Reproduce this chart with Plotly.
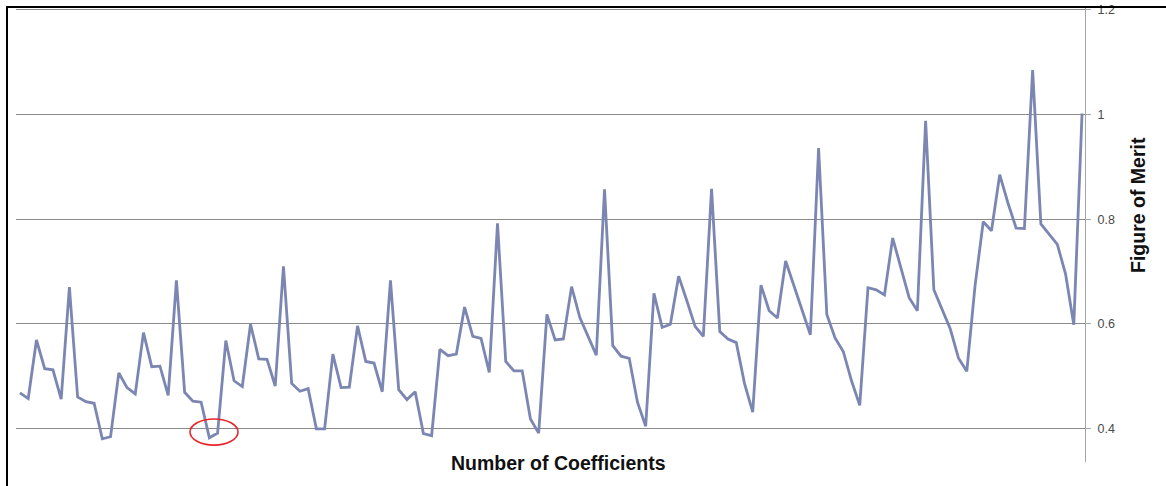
import plotly.graph_objects as go

# Data
figure_of_merit = [
    0.468, 0.457, 0.569, 0.514, 0.512, 0.456, 0.670, 0.460, 0.451, 0.448,
    0.380, 0.384, 0.506, 0.478, 0.466, 0.583, 0.518, 0.519, 0.463, 0.683,
    0.469, 0.452, 0.450, 0.382, 0.391, 0.568, 0.491, 0.480, 0.599, 0.533,
    0.532, 0.481, 0.710, 0.486, 0.471, 0.476, 0.399, 0.399, 0.542, 0.478,
    0.479, 0.596, 0.528, 0.525, 0.470, 0.683, 0.474, 0.455, 0.470, 0.390,
    0.386, 0.551, 0.539, 0.542, 0.632, 0.576, 0.572, 0.507, 0.792, 0.528,
    0.510, 0.510, 0.418, 0.391, 0.618, 0.569, 0.571, 0.671, 0.612, 0.577,
    0.540, 0.857, 0.558, 0.538, 0.534, 0.450, 0.404, 0.658, 0.593, 0.599,
    0.691, 0.644, 0.595, 0.576, 0.858, 0.585, 0.571, 0.564, 0.486, 0.431,
    0.674, 0.625, 0.611, 0.720, 0.672, 0.625, 0.579, 0.936, 0.618, 0.573,
    0.547, 0.491, 0.444, 0.669, 0.665, 0.655, 0.764, 0.707, 0.650, 0.625,
    0.988, 0.665, 0.628, 0.590, 0.534, 0.509, 0.672, 0.795, 0.778, 0.885,
    0.831, 0.783, 0.782, 1.085, 0.791, 0.772, 0.752, 0.695, 0.598, 1.002,
]
coefficients = list(range(1, len(figure_of_merit) + 1))

y_ticks = [0.4, 0.6, 0.8, 1.0, 1.2]
y_tick_labels = ["0.4", "0.6", "0.8", "1", "1.2"]

# highlighted region (red ellipse) around the minimum pair
highlight_x = [21.65, 27.48]
highlight_y = [0.368, 0.418]

fig = go.Figure()
fig.add_trace(go.Scatter(
    x=coefficients, y=figure_of_merit, mode="lines",
    line=dict(color="#7B86B2", width=2.8),
    showlegend=False, hoverinfo="skip",
))

L, R, T, B = 16, 81, 8, 24
W, H = 1166, 486
pw, ph = W - L - R, H - T - B

def px(x):
    return (x - L) / pw

def py(y):
    return (H - B - y) / ph

fig.update_layout(
    width=W, height=H,
    margin=dict(l=L, r=R, t=T, b=B),
    paper_bgcolor="white", plot_bgcolor="white",
    font=dict(family="Liberation Sans, Arial, sans-serif"),
    xaxis=dict(
        range=[0.514, 130.36], showgrid=False, zeroline=False,
        showticklabels=False, ticks="", showline=False, automargin=False,
    ),
    yaxis=dict(
        side="right", range=[0.3357, 1.2038], automargin=False,
        tickvals=y_ticks, ticktext=y_tick_labels,
        showgrid=True, gridcolor="#8A8A8A", gridwidth=1,
        zeroline=False, showline=True, linecolor="#A6A6A6", linewidth=1,
        ticks="outside", ticklen=5, tickcolor="#A6A6A6",
        ticklabelstandoff=4,
        tickfont=dict(size=12.5, color="#4A4A4A"),
    ),
    shapes=[
        dict(type="rect", xref="paper", yref="paper",
             x0=px(7), x1=px(1175), y0=py(495), y1=py(7),
             line=dict(color="black", width=2), fillcolor="rgba(0,0,0,0)", layer="above"),
        dict(type="circle", xref="x", yref="y",
             x0=highlight_x[0], x1=highlight_x[1], y0=highlight_y[0], y1=highlight_y[1],
             line=dict(color="#E8262A", width=1.6)),
    ],
    annotations=[
        dict(text="<b>Number of Coefficients</b>", xref="paper", yref="paper",
             x=px(558), y=py(463), xanchor="center", yanchor="middle",
             showarrow=False, font=dict(size=19.5, color="#111111")),
        dict(text="<b>Figure of Merit</b>", xref="paper", yref="paper",
             x=px(1138), y=py(205), xanchor="center", yanchor="middle",
             textangle=-90, showarrow=False, font=dict(size=19.5, color="#111111")),
    ],
)

fig.write_html("out.html", config={"displayModeBar": False},
               post_script="document.body.style.margin='0';")
